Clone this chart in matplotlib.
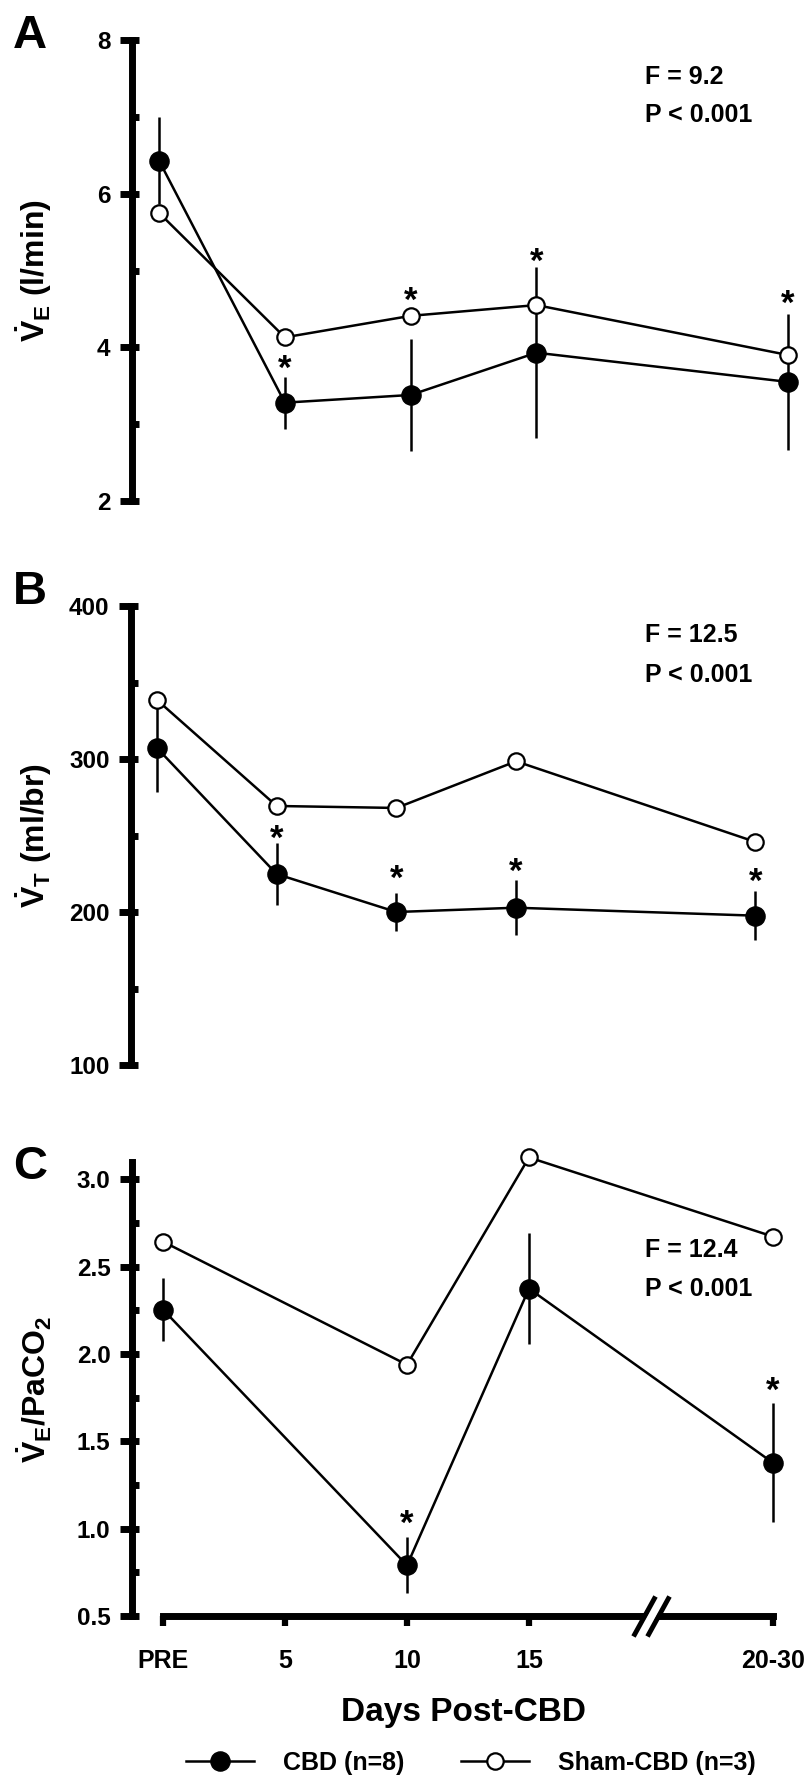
import matplotlib
matplotlib.use('Agg')
import matplotlib.pyplot as plt
from matplotlib.path import Path
from matplotlib.ticker import MultipleLocator

plt.rcParams['font.family'] = ['Liberation Sans', 'DejaVu Sans']
plt.rcParams['font.weight'] = 'bold'
plt.rcParams['mathtext.fontset'] = 'custom'
plt.rcParams['mathtext.rm'] = 'Liberation Sans:bold'
plt.rcParams['mathtext.it'] = 'Liberation Sans:bold'
plt.rcParams['mathtext.bf'] = 'Liberation Sans:bold'
plt.rcParams['mathtext.sf'] = 'Liberation Sans:bold'

# ---------------- data ----------------
x_labels = ['PRE', '5', '10', '15', '20-30']
x_ticks = [0, 1, 2, 3, 5]

# Panel A : V_E (l/min)
a_x = [0, 1, 2, 3, 5]
a_cbd = [6.43, 3.28, 3.38, 3.93, 3.55]
a_cbd_err = [0.57, 0.34, 0.73, 1.11, 0.89]
a_sham = [5.75, 4.13, 4.41, 4.55, 3.90]
a_star_x = [1, 2, 3, 5]
a_star_y = [3.835, 4.72, 5.23, 4.68]
a_stats = ['F = 9.2', 'P < 0.001']

# Panel B : V_T (ml/br)
b_x = [0, 1, 2, 3, 5]
b_cbd = [307.2, 224.8, 200.0, 202.8, 197.6]
b_cbd_err = [29.0, 20.5, 12.5, 18.0, 16.0]
b_sham = [338.6, 269.3, 268.0, 298.5, 245.8]
b_star_x = [1, 2, 3, 5]
b_star_y = [254.0, 227.5, 232.0, 225.6]
b_stats = ['F = 12.5', 'P < 0.001']

# Panel C : V_E / PaCO2
c_x = [0, 2, 3, 5]
c_cbd = [2.255, 0.79, 2.375, 1.377]
c_cbd_err = [0.18, 0.16, 0.32, 0.34]
c_sham = [2.644, 1.939, 3.126, 2.673]
c_star_x = [2, 5]
c_star_y = [1.079, 1.842]
c_stats = ['F = 12.4', 'P < 0.001']

legend_labels = ['CBD (n=8)', 'Sham-CBD (n=3)']

# ---------------- layout ----------------
W, H = 806, 1784
fig = plt.figure(figsize=(W / 100, H / 100), dpi=100)


def rect(left_px, top_px, width_px, bottom_px):
    return [left_px / W, (H - bottom_px) / H, width_px / W, (bottom_px - top_px) / H]


def fig_xy(px, py):
    return px / W, 1 - py / H


axA = fig.add_axes(rect(132, 40, 5.315 * 125.8, 501))
axB = fig.add_axes(rect(131, 606, 5.317 * 119.7, 1065))
axC = fig.add_axes(rect(132, 1162, 5.354 * 122.0, 1616))

STAR_FS = 25


def setup(ax, xlim, ylim, major, minor, bounds):
    ax.set_xlim(xlim)
    ax.set_ylim(ylim)
    for s in ['top', 'right']:
        ax.spines[s].set_visible(False)
    sp = ax.spines['left']
    sp.set_linewidth(5)
    sp.set_capstyle('projecting')
    sp.set_bounds(*bounds)
    ax.yaxis.set_major_locator(MultipleLocator(major))
    ax.yaxis.set_minor_locator(MultipleLocator(minor))
    ax.yaxis.remove_overlapping_locs = False
    ax.tick_params(axis='y', which='major', direction='out', length=8.5,
                   width=5, pad=7, labelsize=17.5)
    ax.tick_params(axis='y', which='minor', direction='in', length=4.7, width=5)
    ax.patch.set_visible(False)


def draw(ax, x, cbd, err, sham, sx, sy):
    ax.errorbar(x, cbd, yerr=err, fmt='none', ecolor='black', elinewidth=1.8,
                capsize=0, zorder=2)
    l1, = ax.plot(x, cbd, '-o', color='black', lw=1.8, ms=13.8, mfc='black',
                  mec='black', zorder=3, clip_on=False)
    l2, = ax.plot(x, sham, '-o', color='black', lw=1.8, ms=11.8, mfc='white',
                  mec='black', mew=1.6, zorder=4, clip_on=False)
    for xx, yy in zip(sx, sy):
        ax.annotate('*', xy=(xx, yy), xytext=(0, -0.55 * STAR_FS),
                    textcoords='offset points', ha='center', va='baseline',
                    fontsize=STAR_FS, fontweight='bold', annotation_clip=False)
    return l1, l2


setup(axA, (-0.215, 5.1), (2, 8), 2, 1, (2, 8))
setup(axB, (-0.217, 5.1), (100, 400), 100, 50, (100, 400))
setup(axC, (-0.254, 5.1), (0.5, 3.1), 0.5, 0.25, (0.5, 3.1))

for ax in (axA, axB):
    ax.spines['bottom'].set_visible(False)
    ax.tick_params(axis='x', bottom=False, labelbottom=False)

h1, h2 = draw(axA, a_x, a_cbd, a_cbd_err, a_sham, a_star_x, a_star_y)
draw(axB, b_x, b_cbd, b_cbd_err, b_sham, b_star_x, b_star_y)
draw(axC, c_x, c_cbd, c_cbd_err, c_sham, c_star_x, c_star_y)

# x axis of panel C
spb = axC.spines['bottom']
spb.set_linewidth(5)
spb.set_capstyle('projecting')
spb.set_bounds(0, 5)
axC.set_xticks(x_ticks, x_labels)
axC.tick_params(axis='x', direction='out', length=7, width=4.5, pad=17, labelsize=18)
axC.set_xlabel('Days Post-CBD', fontsize=24, fontweight='bold')
axC.xaxis.set_label_coords(0.508, -0.178)

# axis break "//"
BREAK_X = 4.0
white_path = Path([(-0.55, -1), (0.55, 1)], [Path.MOVETO, Path.LINETO])
black_path = Path([(-0.9, -1), (0.2, 1), (-0.2, -1), (0.9, 1)],
                  [Path.MOVETO, Path.LINETO, Path.MOVETO, Path.LINETO])
axC.plot([BREAK_X], [0.5], ls='none', marker=white_path, ms=28.8, mec='white',
         mew=6.0, mfc='none', clip_on=False, zorder=6)
axC.plot([BREAK_X], [0.5], ls='none', marker=black_path, ms=28.8, mec='black',
         mew=3.5, mfc='none', clip_on=False, zorder=7)

# y labels
axA.set_ylabel(r'$\dot{\mathrm{V}}_{\mathrm{E}}$ (l/min)', fontsize=23, fontweight='bold')
axB.set_ylabel(r'$\dot{\mathrm{V}}_{\mathrm{T}}$ (ml/br)', fontsize=23, fontweight='bold')
axC.set_ylabel(r'$\dot{\mathrm{V}}_{\mathrm{E}}$/PaCO$_{\mathrm{2}}$', fontsize=23, fontweight='bold')
axA.yaxis.set_label_coords((54 - 132) / (5.315 * 125.8), 0.5)
axB.yaxis.set_label_coords((54 - 131) / (5.317 * 119.7), 0.5)
axC.yaxis.set_label_coords((54 - 132) / (5.354 * 122.0), 0.5)

# panel letters
for letter, base in (('A', 48), ('B', 604), ('C', 1179)):
    fig.text(*fig_xy(30, base), letter, fontsize=34, fontweight='bold',
             ha='center', va='baseline')

# stats text
for stats, (yb1, yb2) in ((a_stats, (84, 122)), (b_stats, (642, 682)),
                          (c_stats, (1257, 1296))):
    fig.text(*fig_xy(645, yb1), stats[0], fontsize=18, fontweight='bold',
             ha='left', va='baseline')
    fig.text(*fig_xy(645, yb2), stats[1], fontsize=18, fontweight='bold',
             ha='left', va='baseline')

# legend
fig.legend(handles=[h1, h2], labels=legend_labels, loc='center',
           bbox_to_anchor=(471 / W, 21 / H), ncol=2, frameon=False,
           prop={'size': 18, 'weight': 'bold'}, handlelength=2.72,
           handletextpad=1.16, columnspacing=2.24, borderpad=0, borderaxespad=0)

fig.savefig('out.png', dpi=100)
